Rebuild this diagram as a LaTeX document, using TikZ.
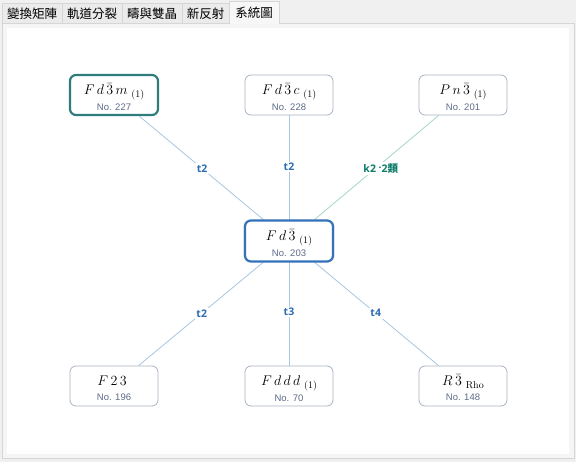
\RequirePackage{fix-cm}
\documentclass[tikz,border=0pt]{standalone}
\usepackage{fontspec}
\setsansfont{Liberation Sans}
\newfontfamily\cjk{Noto Sans CJK TC}
\newfontfamily\lbl{Open Sans}
\usetikzlibrary{shadows}
\definecolor{bgout}{HTML}{F0F0F0}
\definecolor{tabbg}{HTML}{EBEBEB}
\definecolor{tabline}{HTML}{D6D6D6}
\definecolor{boxline}{HTML}{A9B4C2}
\definecolor{numcol}{HTML}{5C6B86}
\definecolor{edgeblue}{HTML}{A9C6E2}
\definecolor{edgeteal}{HTML}{A3D8C8}
\definecolor{selteal}{HTML}{2F7C7C}
\definecolor{selblue}{HTML}{3473BA}
\definecolor{lblblue}{HTML}{2C6DB2}
\definecolor{lblteal}{HTML}{0B7B68}
\tikzset{
  x=1pt,y=-1pt,
  grp/.style={draw=boxline,line width=0.8pt,rounded corners=6pt,fill=white,minimum width=88pt,minimum height=40pt,align=center,inner sep=0pt},
  selA/.style={draw=selteal,line width=2.2pt},
  selB/.style={draw=selblue,line width=2.2pt},
  edge/.style={draw=edgeblue,line width=0.8pt},
  edget/.style={draw=edgeteal,line width=0.8pt},
  elbl/.style={fill=white,inner sep=1.5pt,font=\lbl\bfseries\fontsize{10.5}{12}\selectfont,text=lblblue},
  tab/.style={draw=tabline,fill=tabbg,line width=0.6pt},
  tabtxt/.style={font=\cjk\fontsize{12.5}{14}\selectfont,text=black}
}
\newcommand{\grplabel}[3]{{\fontsize{14}{16}\selectfont\rule{0pt}{15pt}$#1$\;\raisebox{-3pt}{\fontsize{10}{11}\selectfont #2}}\\[3pt]{\sffamily\fontsize{9.5}{11}\selectfont\color{numcol}No. #3}}
\begin{document}
\begin{tikzpicture}
\useasboundingbox (0,0) rectangle (576,462);
\fill[bgout] (0,0) rectangle (576,462);
% panel
\draw[tabline,fill=white!96!black,line width=0.6pt] (2,23) rectangle (574,458);
\fill[white] (7,28) rectangle (569,454);
% tabs
\draw[tab] (2,23) -- (2,3) -- (62,3) -- (62,23);
\draw[tab] (62,23) -- (62,3) -- (122,3) -- (122,23);
\draw[tab] (122,23) -- (122,3) -- (182,3) -- (182,23);
\draw[tab] (182,23) -- (182,3) -- (229,3) -- (229,23);
\draw[draw=tabline,fill=white!97!black,line width=0.6pt] (229,23) -- (229,1) -- (279,1) -- (279,23);
\fill[white!97!black] (229.5,21) rectangle (278.5,24);
\node[tabtxt] (tab1) at (32,14) {變換矩陣};
\node[tabtxt] (tab2) at (92,14) {軌道分裂};
\node[tabtxt] (tab3) at (152,14) {疇與雙晶};
\node[tabtxt] (tab4) at (205.5,14) {新反射};
\node[tabtxt] (tab5) at (254,13) {系統圖};
% nodes
\node[grp,selA] (n227) at (114,95) {\grplabel{F\,d\,\bar{3}\,m}{(1)}{227}};
\node[grp] (n228) at (289,95) {\grplabel{F\,d\,\bar{3}\,c}{(1)}{228}};
\node[grp] (n201) at (463,95) {\grplabel{P\,n\,\bar{3}}{(1)}{201}};
\node[grp] (n196) at (114,386) {\grplabel{F\,2\,3}{}{196}};
\node[grp] (n70) at (289,386) {\grplabel{F\,d\,d\,d}{(1)}{70}};
\node[grp] (n148) at (463,386) {\grplabel{R\,\bar{3}}{Rho}{148}};
% edges (behind center node)
\coordinate (ctr) at (289,241);
\path[edge] (n227) -- node[elbl,pos=0.42] {t2} (ctr);
\path[edge] (n228) -- node[elbl,pos=0.41] {t2} (ctr);
\path[edget] (n201) -- node[elbl,pos=0.42,text=lblteal,xshift=5pt] {k2 \raisebox{1pt}{·}2{\cjk 類}} (ctr);
\path[edge] (n196) -- node[elbl,pos=0.42] {t2} (ctr);
\path[edge] (n70) -- node[elbl,pos=0.43] {t3} (ctr);
\path[edge] (n148) -- node[elbl,pos=0.42] {t4} (ctr);
% center node
\node[grp,selB,minimum width=88pt,minimum height=41pt,drop shadow={shadow xshift=0pt,shadow yshift=0pt,opacity=0.25,fill=selblue!40,shadow scale=1.04}] (n203) at (ctr) {\grplabel{F\,d\,\bar{3}}{(1)}{203}};
\end{tikzpicture}
\end{document}
